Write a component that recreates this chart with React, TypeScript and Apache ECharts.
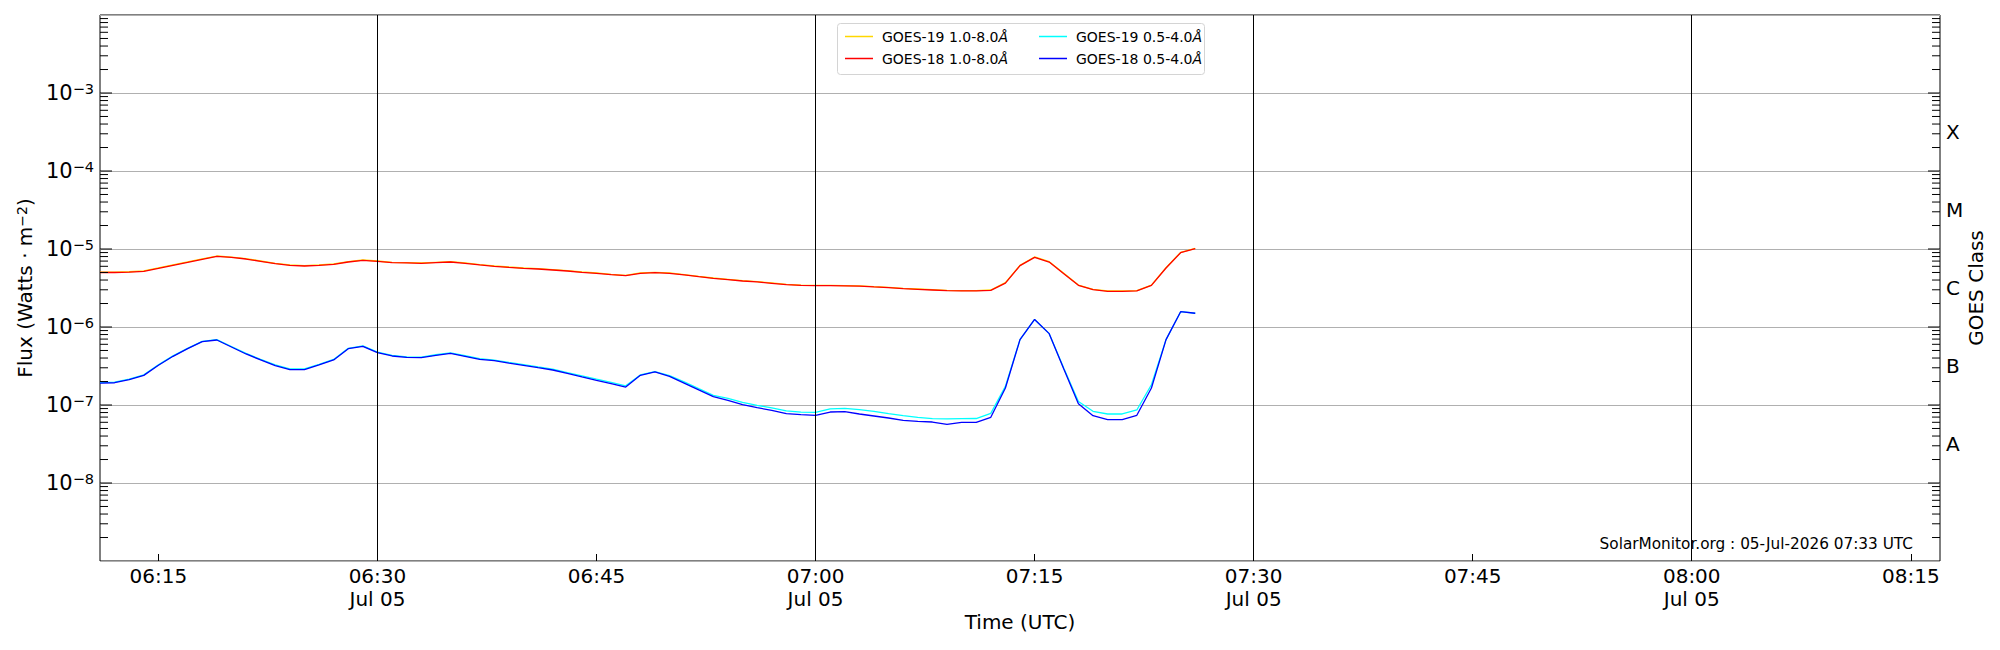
import React, { useEffect, useRef } from "react";
import * as echarts from "echarts";

const times = [
  "06:11", "06:12", "06:13", "06:14", "06:15", "06:16", "06:17", "06:18", "06:19", "06:20",
  "06:21", "06:22", "06:23", "06:24", "06:25", "06:26", "06:27", "06:28", "06:29", "06:30",
  "06:31", "06:32", "06:33", "06:34", "06:35", "06:36", "06:37", "06:38", "06:39", "06:40",
  "06:41", "06:42", "06:43", "06:44", "06:45", "06:46", "06:47", "06:48", "06:49", "06:50",
  "06:51", "06:52", "06:53", "06:54", "06:55", "06:56", "06:57", "06:58", "06:59", "07:00",
  "07:01", "07:02", "07:03", "07:04", "07:05", "07:06", "07:07", "07:08", "07:09", "07:10",
  "07:11", "07:12", "07:13", "07:14", "07:15", "07:16", "07:17", "07:18", "07:19", "07:20",
  "07:21", "07:22", "07:23", "07:24", "07:25", "07:26",
];

// GOES-19 1.0-8.0 Å
const goes19Long = [
  5.05e-6, 5.05e-6, 5.11e-6, 5.23e-6, 5.71e-6, 6.24e-6, 6.82e-6, 7.45e-6, 8.13e-6, 7.88e-6,
  7.51e-6, 7.02e-6, 6.55e-6, 6.24e-6, 6.11e-6, 6.24e-6, 6.42e-6, 6.88e-6, 7.23e-6, 7.02e-6,
  6.75e-6, 6.69e-6, 6.62e-6, 6.75e-6, 6.88e-6, 6.62e-6, 6.3e-6, 6.06e-6, 5.88e-6, 5.71e-6,
  5.6e-6, 5.43e-6, 5.27e-6, 5.07e-6, 4.93e-6, 4.74e-6, 4.6e-6, 4.93e-6, 5.03e-6, 4.93e-6,
  4.7e-6, 4.46e-6, 4.25e-6, 4.09e-6, 3.93e-6, 3.82e-6, 3.67e-6, 3.52e-6, 3.45e-6, 3.42e-6,
  3.42e-6, 3.4e-6, 3.37e-6, 3.29e-6, 3.22e-6, 3.13e-6, 3.07e-6, 3.01e-6, 2.95e-6, 2.93e-6,
  2.93e-6, 2.98e-6, 3.7e-6, 6.17e-6, 7.9e-6, 6.88e-6, 4.88e-6, 3.45e-6, 3.04e-6, 2.9e-6,
  2.9e-6, 2.93e-6, 3.45e-6, 5.76e-6, 9.06e-6, 1.02e-5,
];

// GOES-19 0.5-4.0 Å
const goes19Short = [
  1.94e-7, 1.96e-7, 2.14e-7, 2.44e-7, 3.27e-7, 4.26e-7, 5.33e-7, 6.55e-7, 6.88e-7, 5.62e-7,
  4.58e-7, 3.85e-7, 3.26e-7, 2.9e-7, 2.9e-7, 3.32e-7, 3.84e-7, 5.33e-7, 5.72e-7, 4.76e-7,
  4.32e-7, 4.15e-7, 4.11e-7, 4.41e-7, 4.66e-7, 4.28e-7, 3.92e-7, 3.77e-7, 3.52e-7, 3.3e-7,
  3.08e-7, 2.88e-7, 2.6e-7, 2.37e-7, 2.14e-7, 1.95e-7, 1.76e-7, 2.43e-7, 2.68e-7, 2.38e-7,
  1.98e-7, 1.62e-7, 1.33e-7, 1.22e-7, 1.08e-7, 9.9e-8, 9.2e-8, 8.4e-8, 8.1e-8, 8.05e-8,
  8.9e-8, 9.06e-8, 8.71e-8, 8.3e-8, 7.75e-8, 7.3e-8, 6.95e-8, 6.68e-8, 6.62e-8, 6.68e-8,
  6.71e-8, 7.82e-8, 1.73e-7, 6.89e-7, 1.25e-6, 8.22e-7, 2.95e-7, 1.11e-7, 8.3e-8, 7.67e-8,
  7.67e-8, 8.63e-8, 1.82e-7, 6.89e-7, 1.57e-6, 1.5e-6,
];

// GOES-18 1.0-8.0 Å
const goes18Long = [
  5.0e-6, 5.0e-6, 5.06e-6, 5.18e-6, 5.65e-6, 6.18e-6, 6.75e-6, 7.38e-6, 8.05e-6, 7.8e-6,
  7.44e-6, 6.95e-6, 6.49e-6, 6.18e-6, 6.05e-6, 6.18e-6, 6.36e-6, 6.81e-6, 7.16e-6, 6.95e-6,
  6.68e-6, 6.62e-6, 6.55e-6, 6.68e-6, 6.81e-6, 6.55e-6, 6.24e-6, 6.0e-6, 5.82e-6, 5.65e-6,
  5.54e-6, 5.38e-6, 5.22e-6, 5.02e-6, 4.88e-6, 4.69e-6, 4.55e-6, 4.88e-6, 4.98e-6, 4.88e-6,
  4.65e-6, 4.42e-6, 4.21e-6, 4.05e-6, 3.89e-6, 3.78e-6, 3.63e-6, 3.49e-6, 3.42e-6, 3.39e-6,
  3.39e-6, 3.37e-6, 3.34e-6, 3.26e-6, 3.19e-6, 3.1e-6, 3.04e-6, 2.98e-6, 2.92e-6, 2.9e-6,
  2.9e-6, 2.95e-6, 3.66e-6, 6.11e-6, 7.82e-6, 6.81e-6, 4.83e-6, 3.42e-6, 3.01e-6, 2.87e-6,
  2.87e-6, 2.9e-6, 3.42e-6, 5.7e-6, 8.97e-6, 1.01e-5,
];

// GOES-18 0.5-4.0 Å
const goes18Short = [
  1.91e-7, 1.93e-7, 2.11e-7, 2.4e-7, 3.23e-7, 4.21e-7, 5.27e-7, 6.48e-7, 6.81e-7, 5.54e-7,
  4.51e-7, 3.78e-7, 3.19e-7, 2.84e-7, 2.84e-7, 3.26e-7, 3.78e-7, 5.27e-7, 5.65e-7, 4.69e-7,
  4.25e-7, 4.08e-7, 4.04e-7, 4.34e-7, 4.59e-7, 4.21e-7, 3.85e-7, 3.7e-7, 3.45e-7, 3.23e-7,
  3.01e-7, 2.81e-7, 2.55e-7, 2.29e-7, 2.07e-7, 1.88e-7, 1.7e-7, 2.4e-7, 2.65e-7, 2.33e-7,
  1.91e-7, 1.56e-7, 1.28e-7, 1.15e-7, 1.01e-7, 9.24e-8, 8.55e-8, 7.75e-8, 7.52e-8, 7.38e-8,
  8.13e-8, 8.2e-8, 7.67e-8, 7.23e-8, 6.81e-8, 6.36e-8, 6.18e-8, 6.05e-8, 5.65e-8, 6.0e-8,
  6.0e-8, 6.95e-8, 1.65e-7, 6.89e-7, 1.25e-6, 8.22e-7, 2.9e-7, 1.04e-7, 7.3e-8, 6.49e-8,
  6.49e-8, 7.38e-8, 1.65e-7, 6.89e-7, 1.57e-6, 1.5e-6,
];

const seriesNames = ["GOES-19 1.0-8.0Å", "GOES-19 0.5-4.0Å", "GOES-18 1.0-8.0Å", "GOES-18 0.5-4.0Å"];
const seriesColors = ["#ffd700", "#00ffff", "#ff0000", "#0000ff"];
const xRange = ["06:11", "08:17"];
const xTickTimes = ["06:15", "06:30", "06:45", "07:00", "07:15", "07:30", "07:45", "08:00", "08:15"];
const halfHourLines = ["06:30", "07:00", "07:30", "08:00"];
const dateLabel = "Jul 05";
const yExpRange = [-9, -2];
const yLabelExps = [-8, -7, -6, -5, -4, -3];
const classLetters = ["A", "B", "C", "M", "X"];
const classPositions = [-7.5, -6.5, -5.5, -4.5, -3.5];
const classAxisTitle = "GOES Class";
const footerText = "SolarMonitor.org : 05-Jul-2026 07:33 UTC";

const FONT = "DejaVu Sans";

const ts = (hm: string) => {
  const [h, m] = hm.split(":").map(Number);
  return Date.UTC(2026, 6, 5, h, m, 0);
};

const pad2 = (n: number) => (n < 10 ? "0" + n : "" + n);

const timeLabel = (v: number) => {
  const d = new Date(v);
  const hm = pad2(d.getUTCHours()) + ":" + pad2(d.getUTCMinutes());
  return d.getUTCMinutes() % 30 === 0 ? hm + "\n" + dateLabel : hm;
};

export default function App() {
  const ref = useRef<HTMLDivElement>(null);

  useEffect(() => {
    if (!ref.current) return;
    const chart = echarts.init(ref.current, undefined, { renderer: "svg" });

    const xMin = ts(xRange[0]);
    const xMax = ts(xRange[1]);
    const xTicks = xTickTimes.map(ts);

    // log-axis ticks (major at decades, minor at 2..9 x decade)
    const tickData: number[][] = [];
    for (let e = yExpRange[0]; e < yExpRange[1]; e++) {
      if (e > yExpRange[0]) tickData.push([xMin, Math.pow(10, e), 12]);
      for (let k = 2; k <= 9; k++) tickData.push([xMin, k * Math.pow(10, e), 8]);
    }

    const arrays = [goes19Long, goes19Short, goes18Long, goes18Short];
    const lineSeries = arrays.map((arr, i) => ({
      type: "line",
      name: seriesNames[i],
      data: times.map((t, j) => [ts(t), arr[j]]),
      showSymbol: false,
      symbol: "none",
      color: seriesColors[i],
      lineStyle: { color: seriesColors[i], width: 1.3 },
      z: 3,
      ...(i === 3
        ? {
            markLine: {
              silent: true,
              symbol: ["none", "none"],
              label: { show: false },
              lineStyle: { color: "#000", width: 1, type: "solid" },
              data: halfHourLines.map((t) => ({ xAxis: ts(t) })),
            },
          }
        : {}),
    }));

    const legendFormatter = (name: string) => `{n|${name.slice(0, -1)}}{a|Å}`;
    const legendBase = {
      orient: "vertical",
      top: 23,
      itemWidth: 28,
      itemHeight: 1.5,
      itemGap: 5,
      icon: "rect",
      selectedMode: false,
      formatter: legendFormatter,
      textStyle: {
        fontFamily: FONT,
        fontSize: 14,
        color: "#000",
        lineHeight: 17,
        rich: {
          n: { fontFamily: FONT, fontSize: 14, color: "#000", lineHeight: 17, padding: [0, 0, 0, 4] },
          a: { fontFamily: FONT, fontSize: 14, color: "#000", lineHeight: 17, fontStyle: "italic" },
        },
      },
    };

    const option: any = {
      animation: false,
      backgroundColor: "#fff",
      textStyle: { fontFamily: FONT },
      grid: {
        left: 100,
        right: 60,
        top: 15,
        bottom: 89,
        show: true,
        borderColor: "#000",
        borderWidth: 1,
        backgroundColor: "transparent",
      },
      legend: [
        { ...legendBase, left: 840, data: [seriesNames[0], seriesNames[2]] },
        { ...legendBase, left: 1034, data: [seriesNames[1], seriesNames[3]] },
      ],
      xAxis: {
        type: "value",
        min: xMin,
        max: xMax,
        scale: true,
        axisLine: { show: false },
        axisTick: {
          show: true,
          inside: true,
          length: 7,
          customValues: xTicks,
          lineStyle: { color: "#000", width: 1 },
        },
        splitLine: { show: false },
        axisLabel: { show: false },
        name: "Time (UTC)",
        nameLocation: "middle",
        nameGap: 51,
        nameTextStyle: { fontFamily: FONT, fontSize: 20, color: "#000" },
      },
      yAxis: [
        {
          type: "log",
          logBase: 10,
          min: Math.pow(10, yExpRange[0]),
          max: Math.pow(10, yExpRange[1]),
          axisLine: { show: false },
          axisTick: { show: false },
          splitLine: { show: true, lineStyle: { color: "#b0b0b0", width: 1 } },
          axisLabel: {
            margin: 6,
            formatter: (v: number) => {
              const e = Math.round(Math.log10(v));
              if (yLabelExps.indexOf(e) < 0) return "";
              return `{b|10}{s|\u2212${-e}}`;
            },
            rich: {
              b: { fontFamily: FONT, fontSize: 21, color: "#000", lineHeight: 24 },
              s: { fontFamily: FONT, fontSize: 14.5, color: "#000", lineHeight: 14, verticalAlign: "top" },
            },
          },
          name: "Flux (Watts \u00b7 m{s|\u22122})",
          nameLocation: "middle",
          nameGap: 65,
          nameTextStyle: {
            fontFamily: FONT,
            fontSize: 20,
            color: "#000",
            rich: {
              s: { fontFamily: FONT, fontSize: 14, color: "#000", lineHeight: 14, verticalAlign: "top" },
            },
          },
        },
        {
          type: "value",
          position: "right",
          min: yExpRange[0],
          max: yExpRange[1],
          interval: 0.5,
          axisLine: { show: false },
          axisTick: { show: false },
          splitLine: { show: false },
          axisLabel: {
            fontFamily: FONT,
            fontSize: 20,
            color: "#000",
            margin: 6,
            formatter: (v: number) => {
              const i = classPositions.findIndex((p) => Math.abs(p - v) < 1e-6);
              return i >= 0 ? classLetters[i] : "";
            },
          },
        },
      ],
      series: [
        ...lineSeries,
        {
          type: "custom",
          name: "yticks",
          silent: true,
          clip: false,
          z: 6,
          encode: { x: 0, y: 1 },
          data: tickData,
          renderItem: (params: any, api: any) => {
            const cs = params.coordSys;
            const y = api.coord([api.value(0), api.value(1)])[1];
            const len = api.value(2);
            return {
              type: "group",
              children: [
                {
                  type: "line",
                  shape: { x1: cs.x, y1: y, x2: cs.x + len, y2: y },
                  style: { stroke: "#000", lineWidth: 1 },
                },
                {
                  type: "line",
                  shape: { x1: cs.x + cs.width - len, y1: y, x2: cs.x + cs.width, y2: y },
                  style: { stroke: "#000", lineWidth: 1 },
                },
              ],
            };
          },
        },
        {
          type: "custom",
          name: "xlabels",
          silent: true,
          clip: false,
          z: 6,
          encode: { x: 0, y: 1 },
          data: xTicks.map((t) => [t, Math.pow(10, yExpRange[0])]),
          renderItem: (params: any, api: any) => {
            const cs = params.coordSys;
            const t = api.value(0);
            const x = api.coord([t, api.value(1)])[0];
            return {
              type: "text",
              x: x,
              y: cs.y + cs.height + 3,
              style: {
                text: timeLabel(t),
                fontFamily: FONT,
                fontSize: 20,
                lineHeight: 23.5,
                fill: "#000",
                textAlign: "center",
                textVerticalAlign: "top",
                align: "center",
                verticalAlign: "top",
              },
            };
          },
        },
      ],
      graphic: [
        {
          type: "rect",
          left: 837,
          top: 23,
          z: 3,
          shape: { width: 367, height: 51, r: 3 },
          style: { fill: "rgba(255,255,255,0.8)", stroke: "#d4d4d4", lineWidth: 1 },
        },
        {
          type: "text",
          right: 87,
          top: 536,
          z: 5,
          style: { text: footerText, fontFamily: FONT, fontSize: 15.3, fill: "#000" },
        },
        {
          type: "text",
          x: 1976,
          y: 288,
          rotation: Math.PI / 2,
          z: 5,
          style: {
            text: classAxisTitle,
            fontFamily: FONT,
            fontSize: 20,
            fill: "#000",
            align: "center",
            verticalAlign: "middle",
            textAlign: "center",
            textVerticalAlign: "middle",
          },
        },
      ],
    };

    chart.setOption(option);
    return () => chart.dispose();
  }, []);

  return (
    <div
      ref={ref}
      style={{ position: "fixed", left: 0, top: 0, width: "2000px", height: "650px", background: "#fff" }}
    />
  );
}
